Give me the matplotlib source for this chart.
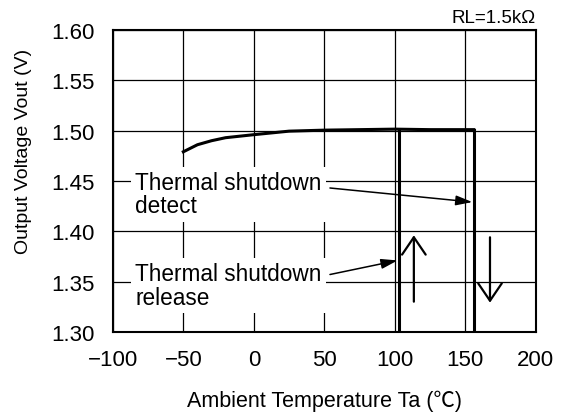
import matplotlib
matplotlib.use("Agg")
import matplotlib.pyplot as plt

plt.rcParams["font.family"] = ["Liberation Sans", "Noto Sans CJK JP", "DejaVu Sans"]
plt.rcParams["axes.unicode_minus"] = True

# ── data ─────────────────────────────────────────────────────────────
temp = [-50, -40, -30, -20, 0, 25, 50, 75, 100, 125, 156]
vout = [1.479, 1.486, 1.490, 1.493, 1.496, 1.4995, 1.5005, 1.501, 1.5015, 1.501, 1.501]

t_release = 103
t_detect = 156
v_low = 1.30
v_high = 1.5005

xticks = [-100, -50, 0, 50, 100, 150, 200]
yticks = [1.30, 1.35, 1.40, 1.45, 1.50, 1.55, 1.60]

fig = plt.figure(figsize=(5.67, 4.14), dpi=100)
ax = fig.add_axes([0.199, 0.196, 0.746, 0.729])

ax.set_xlim(-100, 200)
ax.set_ylim(1.30, 1.60)
ax.set_xticks(xticks)
ax.set_yticks(yticks)
ax.set_yticklabels([f"{v:.2f}" for v in yticks])
ax.set_xticklabels([str(v).replace("-", "\u2212") for v in xticks])
ax.grid(True, color="black", lw=0.9)
ax.set_axisbelow(True)
ax.tick_params(length=0, labelsize=16)
ax.tick_params(axis="y", pad=13)
ax.tick_params(axis="x", pad=12)
for s in ax.spines.values():
    s.set_linewidth(1.5)

# main curve + shutdown lines
ax.plot(temp, vout, color="black", lw=2.2, zorder=3)
ax.plot([t_release, t_release], [v_low, v_high], color="black", lw=2.2, zorder=3)
ax.plot([t_detect, t_detect], [v_low, v_high], color="black", lw=2.2, zorder=3)

# direction arrows
open_head = dict(arrowstyle="->,head_length=1.25,head_width=0.85", lw=1.6, color="black",
                 shrinkA=0, shrinkB=0)
ax.annotate("", xy=(113.5, 1.396), xytext=(113.5, 1.330), arrowprops=open_head)
ax.annotate("", xy=(167.5, 1.329), xytext=(167.5, 1.394), arrowprops=open_head)

box = dict(facecolor="white", edgecolor="none", pad=3)
filled_head = dict(arrowstyle="-|>,head_length=1.0,head_width=0.3", lw=1.1, color="black",
                   shrinkA=0, shrinkB=0)
ax.text(-84, 1.437, "Thermal shutdown\ndetect", fontsize=16.3, va="center", ha="left",
        linespacing=1.05, bbox=box, zorder=4)
ax.annotate("", xy=(t_detect - 1, 1.429), xytext=(54, 1.443), arrowprops=filled_head, zorder=5)
ax.text(-84, 1.346, "Thermal shutdown\nrelease", fontsize=16.3, va="center", ha="left",
        linespacing=1.05, bbox=box, zorder=4)
ax.annotate("", xy=(t_release - 1, 1.371), xytext=(54, 1.357), arrowprops=filled_head, zorder=5)

ax.text(1.0, 1.012, "RL=1.5k\u03a9", transform=ax.transAxes, ha="right", va="bottom", fontsize=13.5)

ax.set_xlabel("Ambient Temperature Ta (\u2103)", fontsize=15.5)
ax.set_ylabel("Output Voltage Vout (V)", fontsize=14)
ax.xaxis.set_label_coords(0.5, -0.19)
ax.yaxis.set_label_coords(-0.19, 0.60)

fig.savefig("out.png", dpi=100)
